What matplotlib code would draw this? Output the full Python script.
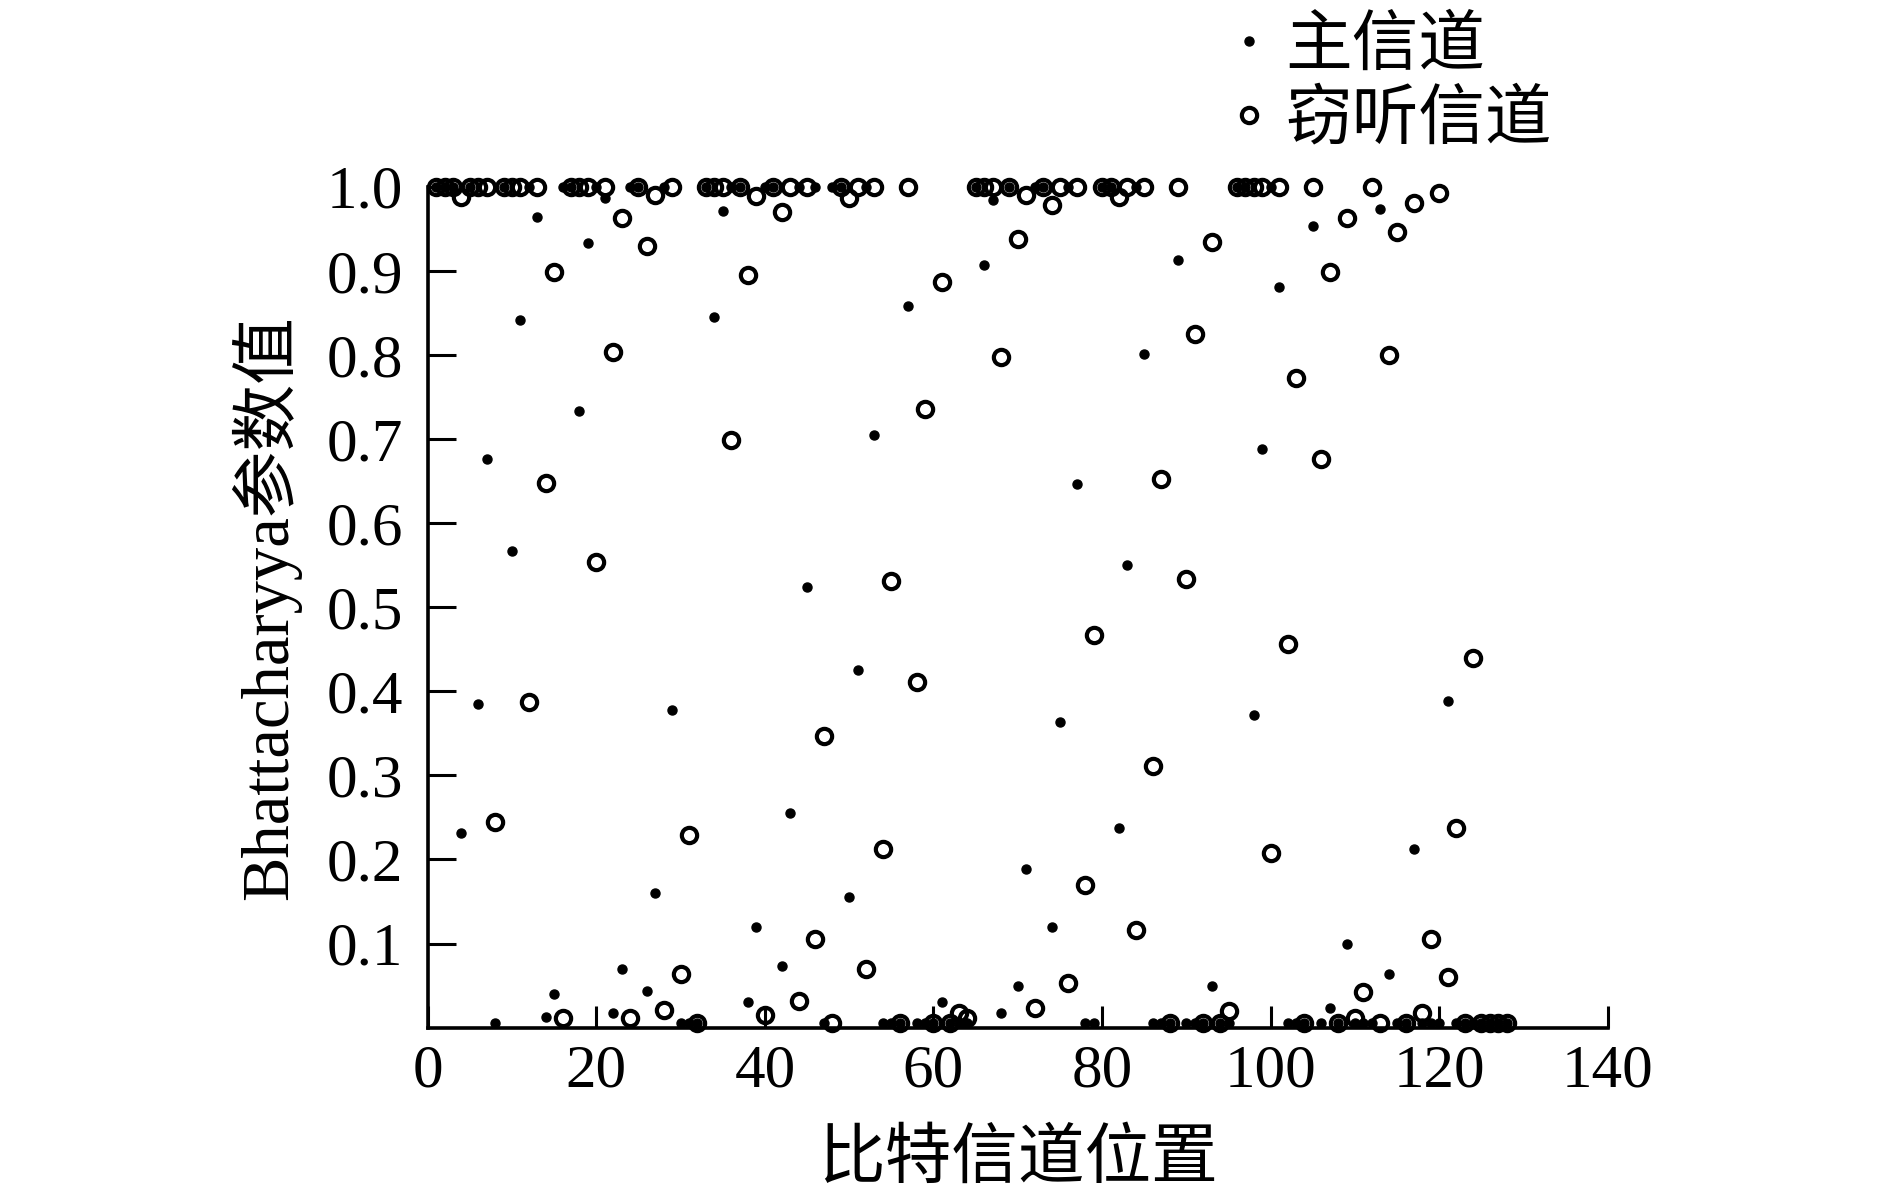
import matplotlib
matplotlib.use('Agg')
import matplotlib.pyplot as plt

plt.rcParams['font.family'] = ['Liberation Serif', 'Noto Sans CJK SC']
plt.rcParams['axes.unicode_minus'] = False

n_bits = 128

# 主信道: 中间值 (位置, 值)
main_mid_x = [4, 6, 7, 10, 11, 13, 14, 15, 18, 19, 21, 22, 23, 26, 27, 29, 34, 35, 38, 39,
              42, 43, 45, 50, 51, 53, 57, 61, 66, 67, 68, 70, 71, 74, 75, 77, 82, 83, 85, 89,
              93, 98, 99, 101, 105, 107, 109, 113, 114, 117, 121]
main_mid_y = [0.232, 0.385, 0.676, 0.567, 0.842, 0.964, 0.013, 0.04, 0.733, 0.933, 0.987, 0.018,
              0.07, 0.044, 0.16, 0.378, 0.845, 0.971, 0.03, 0.12, 0.073, 0.255, 0.524, 0.155,
              0.425, 0.705, 0.858, 0.03, 0.907, 0.984, 0.018, 0.049, 0.189, 0.12, 0.364, 0.646,
              0.238, 0.55, 0.801, 0.913, 0.05, 0.372, 0.688, 0.881, 0.953, 0.024, 0.1, 0.974,
              0.064, 0.212, 0.388]
# 主信道: 值为1的位置
main_top_x = [1, 2, 3, 5, 9, 12, 16, 17, 20, 24, 25, 28, 33, 36, 37, 40, 41, 44, 46, 48, 49, 52,
              65, 69, 72, 73, 76, 80, 81, 84, 96, 97, 100]

# 窃听信道
eve_mid_x = [4, 8, 12, 14, 15, 16, 20, 22, 23, 24, 26, 27, 28, 30, 31, 36, 38, 39, 40, 42, 44, 46,
             47, 50, 52, 54, 55, 58, 59, 61, 63, 64, 68, 70, 71, 72, 74, 76, 78, 79, 82, 84, 86,
             87, 90, 91, 93, 95, 100, 102, 103, 106, 107, 109, 110, 111, 114, 115, 117, 118, 119,
             120, 121, 122, 124]
eve_mid_y = [0.988, 0.244, 0.387, 0.648, 0.898, 0.012, 0.554, 0.804, 0.963, 0.012, 0.93, 0.99,
             0.021, 0.064, 0.229, 0.699, 0.895, 0.989, 0.015, 0.97, 0.032, 0.106, 0.347, 0.987,
             0.07, 0.213, 0.531, 0.411, 0.736, 0.887, 0.017, 0.011, 0.797, 0.938, 0.99, 0.023,
             0.978, 0.053, 0.17, 0.467, 0.988, 0.116, 0.311, 0.652, 0.534, 0.825, 0.934, 0.02,
             0.208, 0.456, 0.772, 0.676, 0.898, 0.963, 0.012, 0.042, 0.8, 0.946, 0.98, 0.018,
             0.105, 0.993, 0.06, 0.238, 0.44]
eve_top_x = [1, 2, 3, 5, 6, 7, 9, 10, 11, 13, 17, 18, 19, 21, 25, 29, 33, 34, 35, 37, 41, 43, 45,
             49, 51, 53, 57, 65, 66, 67, 69, 73, 75, 77, 80, 81, 83, 85, 89, 96, 97, 98, 99, 101,
             105, 112]

top_val = 1.0
low_val = 0.005


def full_series(mid_x, mid_y, top_x):
    xs, ys = [], []
    mid = dict(zip(mid_x, mid_y))
    for i in range(1, n_bits + 1):
        xs.append(i)
        if i in mid:
            ys.append(mid[i])
        elif i in top_x:
            ys.append(top_val)
        else:
            ys.append(low_val)
    return xs, ys


main_x, main_y = full_series(main_mid_x, main_mid_y, main_top_x)
eve_x, eve_y = full_series(eve_mid_x, eve_mid_y, eve_top_x)

fig = plt.figure(figsize=(18.89, 11.95), dpi=100)
ax = fig.add_axes([0.2264, 0.140, 0.6248, 0.7038])

ax.plot(main_x, main_y, linestyle='none', marker='o', markersize=6.5, color='black',
        clip_on=False, zorder=3, label='主信道')
ax.plot(eve_x, eve_y, linestyle='none', marker='o', markersize=11, markerfacecolor='none',
        markeredgecolor='black', markeredgewidth=3, clip_on=False, zorder=2, label='窃听信道')

ax.set_xlim(0, 140)
ax.set_ylim(0, 1.0)
ax.set_xticks(range(0, 141, 20))
ax.set_yticks([0.1, 0.2, 0.3, 0.4, 0.5, 0.6, 0.7, 0.8, 0.9, 1.0])
ax.set_yticklabels(['%.1f' % v for v in ax.get_yticks()])

for s in ['top', 'right']:
    ax.spines[s].set_visible(False)
for s in ['left', 'bottom']:
    ax.spines[s].set_linewidth(2.6)

ax.tick_params(axis='both', direction='in', labelsize=44, width=2.2)
ax.tick_params(axis='y', length=20, pad=18)
ax.tick_params(axis='x', length=16, pad=12)

ax.set_xlabel('比特信道位置', fontsize=48, labelpad=22)
ax.set_ylabel('Bhattacharyya参数值', fontsize=48, labelpad=18)

fig.legend(loc='upper left', bbox_to_anchor=(0.633, 1.008), frameon=False, fontsize=48,
           handlelength=0.8, handletextpad=0.15, labelspacing=0.18, borderaxespad=0)

fig.savefig('out.png', dpi=100)
